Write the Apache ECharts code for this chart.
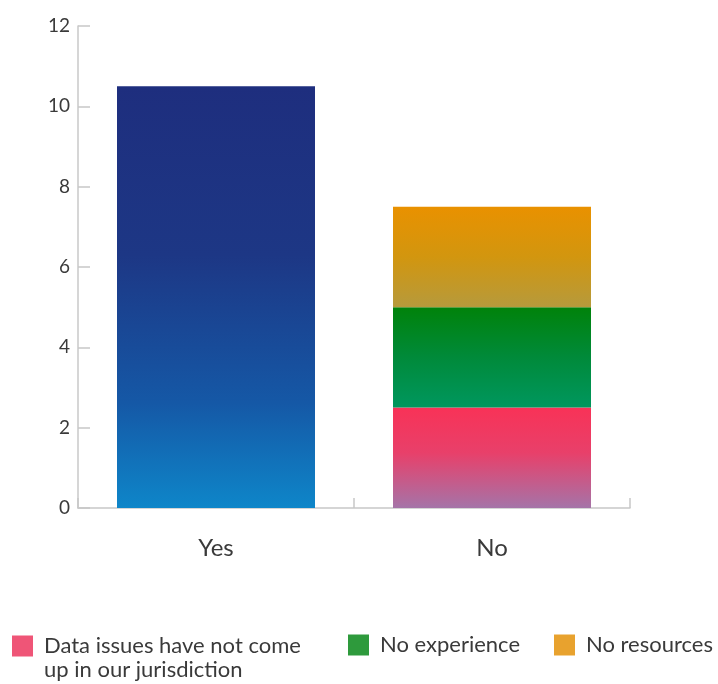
<!DOCTYPE html>
<html>
<head>
<meta charset="utf-8">
<script src="https://cdn.jsdelivr.net/npm/echarts@6/dist/echarts.min.js"></script>
<style>
  html, body { margin: 0; padding: 0; background: #fff; }
  #chart { width: 718px; height: 684px; }
</style>
</head>
<body>
<div id="chart"></div>
<script>
// Categories and values
const categories = ['Yes', 'No'];
const yesValues = [10.5, '-'];
const dataIssuesValues = ['-', 2.5];
const noExperienceValues = ['-', 2.5];
const noResourcesValues = ['-', 2.5];
const yTicks = [0, 2, 4, 6, 8, 10, 12];

const seriesNames = {
  dataIssues: 'Data issues have not come up in our jurisdiction',
  noExperience: 'No experience',
  noResources: 'No resources'
};

function vGrad(stops) {
  return new echarts.graphic.LinearGradient(0, 0, 0, 1,
    stops.map(s => ({ offset: s[0], color: s[1] })));
}

const font = 'Lato, "Noto Sans", sans-serif';
const textColor = '#3a3a3a';

const chart = echarts.init(document.getElementById('chart'), null, { renderer: 'canvas' });

const legendBase = {
  orient: 'horizontal',
  itemWidth: 21,
  itemHeight: 21,
  icon: 'rect',
  padding: 0,
  textStyle: { fontFamily: font, fontSize: 22, color: textColor, padding: [0, 0, 0, 6] }
};

chart.setOption({
  animation: false,
  grid: { left: 78, right: 88, top: 26, bottom: 176, containLabel: false },
  xAxis: {
    type: 'category',
    data: categories,
    boundaryGap: true,
    axisLine: { lineStyle: { color: '#c8c8c8', width: 1.5 } },
    axisTick: { show: true, inside: true, length: 10, lineStyle: { color: '#c8c8c8', width: 1.5 } },
    axisLabel: { fontFamily: font, fontSize: 24, color: textColor, margin: 28 }
  },
  yAxis: {
    type: 'value',
    min: yTicks[0],
    max: yTicks[yTicks.length - 1],
    interval: 2,
    splitLine: { show: false },
    axisLine: { show: true, lineStyle: { color: '#c8c8c8', width: 1.5 } },
    axisTick: { show: true, inside: true, length: 12, lineStyle: { color: '#c8c8c8', width: 1.5 } },
    axisLabel: { fontFamily: font, fontSize: 19, color: textColor, margin: 8 }
  },
  legend: [
    Object.assign({}, legendBase, {
      left: 12,
      top: 610,
      data: [{ name: seriesNames.dataIssues, itemStyle: { color: '#ef5577' } }],
      // leading empty line keeps the swatch level with the first text line
      formatter: () => '\nData issues have not come\nup in our jurisdiction',
      textStyle: Object.assign({}, legendBase.textStyle, { lineHeight: 24 })
    }),
    Object.assign({}, legendBase, {
      left: 348,
      top: 634,
      data: [{ name: seriesNames.noExperience, itemStyle: { color: '#2e9a3c' } }]
    }),
    Object.assign({}, legendBase, {
      left: 554,
      top: 634,
      data: [{ name: seriesNames.noResources, itemStyle: { color: '#e8a22e' } }]
    })
  ],
  series: [
    {
      name: 'Yes',
      type: 'bar',
      stack: 'total',
      barWidth: 198,
      data: yesValues,
      itemStyle: {
        color: vGrad([[0, '#1e2e7e'], [0.4, '#1d3785'], [0.75, '#1558a6'], [1, '#0e86c9']])
      }
    },
    {
      name: seriesNames.dataIssues,
      type: 'bar',
      stack: 'total',
      barWidth: 198,
      data: dataIssuesValues,
      itemStyle: {
        color: vGrad([[0, '#f83257'], [0.45, '#e8406a'], [1, '#a574a8']])
      }
    },
    {
      name: seriesNames.noExperience,
      type: 'bar',
      stack: 'total',
      barWidth: 198,
      data: noExperienceValues,
      itemStyle: {
        color: vGrad([[0, '#00820a'], [0.5, '#008a3a'], [1, '#00975e']])
      }
    },
    {
      name: seriesNames.noResources,
      type: 'bar',
      stack: 'total',
      barWidth: 198,
      data: noResourcesValues,
      itemStyle: {
        color: vGrad([[0, '#e99100'], [0.5, '#d2960f'], [1, '#b69a3c']])
      }
    }
  ]
});
</script>
</body>
</html>
